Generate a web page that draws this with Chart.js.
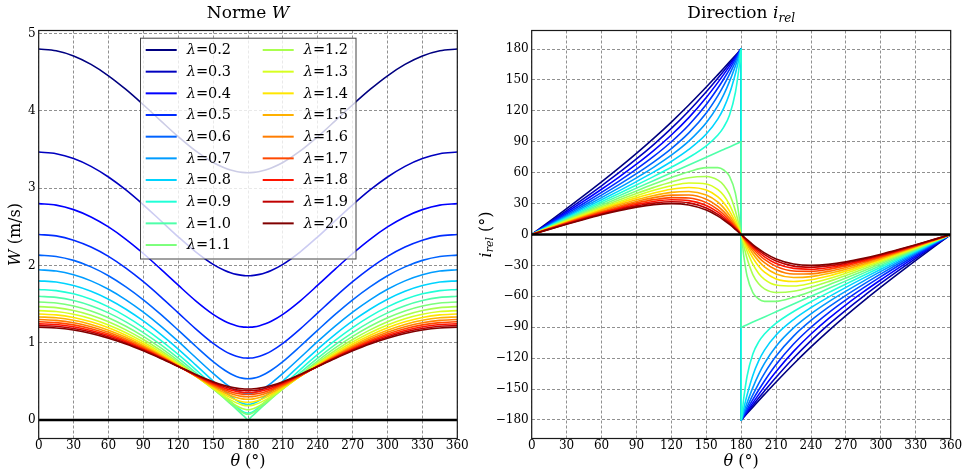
<!DOCTYPE html>
<html><head><meta charset="utf-8">
<script src="https://cdn.jsdelivr.net/npm/chart.js@4.4.1/dist/chart.umd.min.js"></script>
<style>
html,body{margin:0;padding:0;background:#fff;}
#wrap{position:relative;width:964px;height:475px;overflow:hidden;background:#fff;}
#pW{position:absolute;left:0;top:0;width:482px;height:475px;}
#pI{position:absolute;left:466px;top:0;width:498px;height:475px;}
</style></head><body>
<div id="wrap">
<div id="pW"><canvas id="cW" width="482" height="475"></canvas></div>
<div id="pI"><canvas id="cI" width="498" height="475"></canvas></div>
</div>
<script>
// ---------------- data ----------------
const lambdas = [0.2,0.3,0.4,0.5,0.6,0.7,0.8,0.9,1.0,1.1,1.2,1.3,1.4,1.5,1.6,1.7,1.8,1.9,2.0];
const theta = [0,15,30,45,60,75,90,105,120,135,150,160,165,170,175,178,180,180,182,185,190,195,200,210,225,240,255,270,285,300,315,330,345,360];
const thetaTicks = [0,30,60,90,120,150,180,210,240,270,300,330,360];
const wTicks = [0,1,2,3,4,5];
const iTicks = [-180,-150,-120,-90,-60,-30,0,30,60,90,120,150,180];
const zeroTheta = [0,360];
const zeroValue = [0,0];

// Norme W (m/s)
const W_02 = [4.8,4.777,4.71,4.601,4.454,4.277,4.079,3.871,3.666,3.481,3.331,3.26,3.234,3.215,3.204,3.201,3.2,3.2,3.201,3.204,3.215,3.234,3.26,3.331,3.481,3.666,3.871,4.079,4.277,4.454,4.601,4.71,4.777,4.8];
const W_03 = [3.467,3.446,3.383,3.282,3.144,2.976,2.784,2.578,2.37,2.176,2.014,1.934,1.905,1.884,1.871,1.867,1.867,1.867,1.867,1.871,1.884,1.905,1.934,2.014,2.176,2.37,2.578,2.784,2.976,3.144,3.282,3.383,3.446,3.467];
const W_04 = [2.8,2.78,2.722,2.627,2.498,2.338,2.154,1.952,1.744,1.542,1.367,1.278,1.245,1.22,1.205,1.201,1.2,1.2,1.201,1.205,1.22,1.245,1.278,1.367,1.542,1.744,1.952,2.154,2.338,2.498,2.627,2.722,2.78,2.8];
const W_05 = [2.4,2.382,2.327,2.238,2.117,1.965,1.789,1.593,1.386,1.179,0.991,0.891,0.853,0.824,0.806,0.801,0.8,0.8,0.801,0.806,0.824,0.853,0.891,0.991,1.179,1.386,1.593,1.789,1.965,2.117,2.238,2.327,2.382,2.4];
const W_06 = [2.133,2.116,2.065,1.981,1.867,1.723,1.555,1.366,1.162,0.954,0.755,0.643,0.598,0.563,0.541,0.535,0.533,0.533,0.535,0.541,0.563,0.598,0.643,0.755,0.954,1.162,1.366,1.555,1.723,1.867,1.981,2.065,2.116,2.133];
const W_07 = [1.943,1.927,1.879,1.8,1.691,1.555,1.395,1.214,1.016,0.808,0.602,0.477,0.424,0.381,0.353,0.344,0.343,0.343,0.344,0.353,0.381,0.424,0.477,0.602,0.808,1.016,1.214,1.395,1.555,1.691,1.8,1.879,1.927,1.943];
const W_08 = [1.8,1.785,1.739,1.665,1.562,1.433,1.281,1.107,0.917,0.713,0.504,0.369,0.307,0.254,0.215,0.202,0.2,0.2,0.202,0.215,0.254,0.307,0.369,0.504,0.713,0.917,1.107,1.281,1.433,1.562,1.665,1.739,1.785,1.8];
const W_09 = [1.689,1.674,1.632,1.561,1.463,1.341,1.196,1.031,0.848,0.652,0.445,0.306,0.237,0.172,0.115,0.094,0.089,0.089,0.094,0.115,0.172,0.237,0.306,0.445,0.652,0.848,1.031,1.196,1.341,1.463,1.561,1.632,1.674,1.689];
const W_10 = [1.6,1.586,1.545,1.478,1.386,1.269,1.131,0.974,0.8,0.612,0.414,0.278,0.209,0.139,0.07,0.028,0,0,0.028,0.07,0.139,0.209,0.278,0.414,0.612,0.8,0.974,1.131,1.269,1.386,1.478,1.545,1.586,1.6];
const W_11 = [1.527,1.514,1.475,1.411,1.323,1.212,1.081,0.932,0.766,0.588,0.401,0.275,0.212,0.152,0.099,0.077,0.073,0.073,0.077,0.099,0.152,0.212,0.275,0.401,0.588,0.766,0.932,1.081,1.212,1.323,1.411,1.475,1.514,1.527];
const W_12 = [1.467,1.454,1.417,1.356,1.272,1.166,1.041,0.899,0.742,0.575,0.401,0.287,0.233,0.184,0.148,0.136,0.133,0.133,0.136,0.148,0.184,0.233,0.287,0.401,0.575,0.742,0.899,1.041,1.166,1.272,1.356,1.417,1.454,1.467];
const W_13 = [1.415,1.403,1.368,1.31,1.229,1.129,1.009,0.874,0.726,0.568,0.407,0.306,0.26,0.221,0.195,0.186,0.185,0.185,0.186,0.195,0.221,0.26,0.306,0.407,0.568,0.726,0.874,1.009,1.129,1.229,1.31,1.368,1.403,1.415];
const W_14 = [1.371,1.36,1.326,1.27,1.193,1.097,0.983,0.854,0.714,0.566,0.418,0.328,0.289,0.257,0.236,0.23,0.229,0.229,0.23,0.236,0.257,0.289,0.328,0.418,0.566,0.714,0.854,0.983,1.097,1.193,1.27,1.326,1.36,1.371];
const W_15 = [1.333,1.322,1.29,1.236,1.162,1.07,0.961,0.839,0.706,0.567,0.431,0.35,0.317,0.29,0.273,0.268,0.267,0.267,0.268,0.273,0.29,0.317,0.35,0.431,0.567,0.706,0.839,0.961,1.07,1.162,1.236,1.29,1.322,1.333];
const W_16 = [1.3,1.289,1.258,1.207,1.136,1.047,0.943,0.826,0.7,0.569,0.444,0.372,0.342,0.32,0.305,0.301,0.3,0.3,0.301,0.305,0.32,0.342,0.372,0.444,0.569,0.7,0.826,0.943,1.047,1.136,1.207,1.258,1.289,1.3];
const W_17 = [1.271,1.26,1.23,1.181,1.113,1.028,0.928,0.816,0.696,0.574,0.458,0.392,0.366,0.346,0.334,0.33,0.329,0.329,0.33,0.334,0.346,0.366,0.392,0.458,0.574,0.696,0.816,0.928,1.028,1.113,1.181,1.23,1.26,1.271];
const W_18 = [1.244,1.235,1.206,1.158,1.092,1.011,0.915,0.808,0.694,0.579,0.471,0.411,0.388,0.37,0.359,0.356,0.356,0.356,0.356,0.359,0.37,0.388,0.411,0.471,0.579,0.694,0.808,0.915,1.011,1.092,1.158,1.206,1.235,1.244];
const W_19 = [1.221,1.212,1.184,1.137,1.074,0.996,0.904,0.802,0.693,0.584,0.484,0.429,0.408,0.392,0.382,0.38,0.379,0.379,0.38,0.382,0.392,0.408,0.429,0.484,0.584,0.693,0.802,0.904,0.996,1.074,1.137,1.184,1.212,1.221];
const W_20 = [1.2,1.191,1.164,1.119,1.058,0.983,0.894,0.796,0.693,0.589,0.496,0.446,0.426,0.412,0.403,0.401,0.4,0.4,0.401,0.403,0.412,0.426,0.446,0.496,0.589,0.693,0.796,0.894,0.983,1.058,1.119,1.164,1.191,1.2];

// Direction i_rel (deg)
const I_02 = [0,12.5,25.13,37.94,51.05,64.59,78.69,93.48,109.11,125.65,143.1,155.19,161.33,167.52,173.75,177.5,180,-180,-177.5,-173.75,-167.52,-161.33,-155.19,-143.1,-125.65,-109.11,-93.48,-78.69,-64.59,-51.05,-37.94,-25.13,-12.5,0];
const I_03 = [0,11.55,23.21,35.07,47.27,59.95,73.3,87.56,103,119.92,138.54,151.87,158.76,165.77,172.86,177.14,180,-180,-177.14,-172.86,-165.77,-158.76,-151.87,-138.54,-119.92,-103,-87.56,-73.3,-59.95,-47.27,-35.07,-23.21,-11.55,0];
const I_04 = [0,10.73,21.55,32.57,43.9,55.7,68.2,81.68,96.59,113.48,132.99,147.64,155.43,163.46,171.68,176.67,180,-180,-176.67,-171.68,-163.46,-155.43,-147.64,-132.99,-113.48,-96.59,-81.68,-68.2,-55.7,-43.9,-32.57,-21.55,-10.73,0];
const I_05 = [0,10.01,20.1,30.36,40.89,51.85,63.43,75.98,90,106.32,126.21,142.13,150.95,160.3,170.04,176,180,-180,-176,-170.04,-160.3,-150.95,-142.13,-126.21,-106.32,-90,-75.98,-63.43,-51.85,-40.89,-30.36,-20.1,-10.01,0];
const I_06 = [0,9.39,18.83,28.41,38.21,48.36,59.04,70.55,83.41,98.61,118.01,134.8,144.73,155.71,167.59,175.01,180,-180,-175.01,-167.59,-155.71,-144.73,-134.8,-118.01,-98.61,-83.41,-70.55,-59.04,-48.36,-38.21,-28.41,-18.83,-9.39,0];
const I_07 = [0,8.83,17.71,26.68,35.82,45.21,55.01,65.45,77,90.58,108.37,125.02,135.78,148.63,163.6,173.35,180,-180,-173.35,-163.6,-148.63,-135.78,-125.02,-108.37,-90.58,-77,-65.45,-55.01,-45.21,-35.82,-26.68,-17.71,-8.83,0];
const I_08 = [0,8.34,16.71,25.14,33.67,42.37,51.34,60.74,70.89,82.52,97.52,112.22,122.66,136.78,156.05,170.07,180,-180,-170.07,-156.05,-136.78,-122.66,-112.22,-97.52,-82.52,-70.89,-60.74,-51.34,-42.37,-33.67,-25.14,-16.71,-8.34,0];
const I_09 = [0,7.9,15.81,23.75,31.74,39.81,48.01,56.42,65.21,74.74,86.11,96.62,104.29,116.03,137.82,160.65,180,-180,-160.65,-137.82,-116.03,-104.29,-96.62,-86.11,-74.74,-65.21,-56.42,-48.01,-39.81,-31.74,-23.75,-15.81,-7.9,0];
const I_10 = [0,7.5,15,22.5,30,37.5,45,52.5,60,67.5,75,80,82.5,85,87.5,89,90,-90,-89,-87.5,-85,-82.5,-80,-75,-67.5,-60,-52.5,-45,-37.5,-30,-22.5,-15,-7.5,0];
const I_11 = [0,7.14,14.27,21.37,28.43,35.41,42.27,48.95,55.28,60.94,64.92,64.89,62.61,56.44,40.02,19.13,0,0,-19.13,-40.02,-56.44,-62.61,-64.89,-64.92,-60.94,-55.28,-48.95,-42.27,-35.41,-28.43,-21.37,-14.27,-7.14,0];
const I_12 = [0,6.81,13.6,20.34,27,33.51,39.81,45.73,51.05,55.12,56.26,52.72,47.87,38.9,23.15,9.87,0,0,-9.87,-23.15,-38.9,-47.87,-52.72,-56.26,-55.12,-51.05,-45.73,-39.81,-33.51,-27,-20.34,-13.6,-6.81,0];
const I_13 = [0,6.52,13,19.41,25.69,31.78,37.57,42.85,47.27,50.02,49.04,43.51,37.77,28.85,16.01,6.62,0,0,-6.62,-16.01,-28.85,-37.77,-43.51,-49.04,-50.02,-47.27,-42.85,-37.57,-31.78,-25.69,-19.41,-13,-6.52,0];
const I_14 = [0,6.24,12.44,18.55,24.5,30.21,35.54,40.24,43.9,45.58,43.12,36.61,30.8,22.7,12.18,4.98,0,0,-4.98,-12.18,-22.7,-30.8,-36.61,-43.12,-45.58,-43.9,-40.24,-35.54,-30.21,-24.5,-18.55,-12.44,-6.24,0];
const I_15 = [0,5.99,11.93,17.76,23.41,28.78,33.69,37.89,40.89,41.73,38.26,31.4,25.86,18.63,9.81,3.99,0,0,-3.99,-9.81,-18.63,-25.86,-31.4,-38.26,-41.73,-40.89,-37.89,-33.69,-28.78,-23.41,-17.76,-11.93,-5.99,0];
const I_16 = [0,5.76,11.46,17.04,22.41,27.46,32.01,35.76,38.21,38.38,34.26,27.38,22.2,15.76,8.21,3.33,0,0,-3.33,-8.21,-15.76,-22.2,-27.38,-34.26,-38.38,-38.21,-35.76,-32.01,-27.46,-22.41,-17.04,-11.46,-5.76,0];
const I_17 = [0,5.55,11.03,16.37,21.49,26.25,30.47,33.83,35.82,35.46,30.94,24.22,19.42,13.65,7.06,2.85,0,0,-2.85,-7.06,-13.65,-19.42,-24.22,-30.94,-35.46,-35.82,-33.83,-30.47,-26.25,-21.49,-16.37,-11.03,-5.55,0];
const I_18 = [0,5.35,10.62,15.75,20.63,25.13,29.05,32.08,33.67,32.9,28.16,21.68,17.24,12.03,6.19,2.5,0,0,-2.5,-6.19,-12.03,-17.24,-21.68,-28.16,-32.9,-33.67,-32.08,-29.05,-25.13,-20.63,-15.75,-10.62,-5.35,0];
const I_19 = [0,5.16,10.25,15.17,19.84,24.11,27.76,30.48,31.74,30.66,25.81,19.6,15.49,10.74,5.51,2.22,0,0,-2.22,-5.51,-10.74,-15.49,-19.6,-25.81,-30.66,-31.74,-30.48,-27.76,-24.11,-19.84,-15.17,-10.25,-5.16,0];
const I_20 = [0,4.99,9.9,14.64,19.11,23.15,26.57,29.02,30,28.68,23.79,17.88,14.05,9.71,4.96,2,0,0,-2,-4.96,-9.71,-14.05,-17.88,-23.79,-28.68,-30,-29.02,-26.57,-23.15,-19.11,-14.64,-9.9,-4.99,0];

const normeW = [W_02,W_03,W_04,W_05,W_06,W_07,W_08,W_09,W_10,W_11,W_12,W_13,W_14,W_15,W_16,W_17,W_18,W_19,W_20];
const directionI = [I_02,I_03,I_04,I_05,I_06,I_07,I_08,I_09,I_10,I_11,I_12,I_13,I_14,I_15,I_16,I_17,I_18,I_19,I_20];

// ---------------- styles ----------------
const jetColors = ['#000080','#0000bf','#0000ff','#002bff','#0063ff','#009cff','#00d4ff','#20ffd7','#4effa9','#7bff7b','#a9ff4e','#d7ff20','#ffe600','#ffb100','#ff7d00','#ff4800','#ff1400','#c00000','#800000'];
const FAM = '"DejaVu Serif", serif';
Chart.defaults.font.family = FAM;
const GRID = 'rgba(0,0,0,0.55)';

function drawParts(ctx, parts, x, y, align) {
  let total = 0;
  for (const p of parts) { ctx.font = p[1]; total += ctx.measureText(p[0]).width; }
  let cx = align === 'center' ? x - total / 2 : x;
  ctx.textAlign = 'left';
  for (const p of parts) {
    ctx.font = p[1];
    ctx.fillText(p[0], cx, y + (p[2] || 0));
    cx += ctx.measureText(p[0]).width;
  }
}

function drawLegend(ctx) {
  ctx.save();
  ctx.fillStyle = 'rgba(255,255,255,0.8)';
  ctx.fillRect(140, 37.7, 216, 221.3);
  ctx.strokeStyle = '#444';
  ctx.lineWidth = 1;
  ctx.setLineDash([]);
  ctx.strokeRect(140.5, 38.2, 215.5, 220.8);
  ctx.textBaseline = 'middle';
  ctx.fillStyle = '#000';
  for (let k = 0; k < lambdas.length; k++) {
    const col = k < 10 ? 0 : 1;
    const row = col ? k - 10 : k;
    const y = 50 + row * 21.67;
    const x1 = col ? 262.7 : 145.7;
    ctx.strokeStyle = jetColors[k];
    ctx.lineWidth = 2;
    ctx.beginPath(); ctx.moveTo(x1, y); ctx.lineTo(x1 + 31, y); ctx.stroke();
    drawParts(ctx, [['λ', 'italic 14.5px ' + FAM], ['=' + lambdas[k].toFixed(1), '14.5px ' + FAM]], x1 + 41, y + 0.5, 'left');
  }
  ctx.restore();
}

const decor = {
  id: 'decor',
  afterDraw(chart, args, opts) {
    const ctx = chart.ctx, a = chart.chartArea;
    ctx.save();
    if (opts.legend) drawLegend(ctx);
    ctx.setLineDash([]);
    ctx.strokeStyle = '#1a1a1a';
    ctx.lineWidth = 1.2;
    ctx.strokeRect(a.left, a.top, a.right - a.left, a.bottom - a.top);
    ctx.fillStyle = '#000';
    const cx = (a.left + a.right) / 2;
    ctx.textBaseline = 'alphabetic';
    drawParts(ctx, opts.title, cx, 17.5, 'center');
    ctx.textBaseline = 'middle';
    drawParts(ctx, opts.xlabel, cx, 462, 'center');
    ctx.translate(opts.ylabelX, (a.top + a.bottom) / 2);
    ctx.rotate(-Math.PI / 2);
    drawParts(ctx, opts.ylabel, 0, 0, 'center');
    ctx.restore();
  }
};

function makeDatasets(list) {
  const ds = list.map((vals, k) => ({
    label: 'λ=' + lambdas[k].toFixed(1),
    data: theta.map((t, j) => ({x: t, y: vals[j]})),
    borderColor: jetColors[k],
    backgroundColor: jetColors[k],
    borderWidth: 1.6,
    pointRadius: 0,
    fill: false,
    cubicInterpolationMode: 'monotone',
    borderJoinStyle: 'round',
    order: 40 - k
  }));
  ds.push({
    label: 'zero',
    data: zeroTheta.map((t, j) => ({x: t, y: zeroValue[j]})),
    borderColor: '#000', borderWidth: 2.5, pointRadius: 0, tension: 0, fill: false, order: 0
  });
  return ds;
}

function axisOpts(extra) {
  return Object.assign({
    type: 'linear',
    grid: {color: GRID, lineWidth: 0.8, drawTicks: false},
    border: {display: false, dash: [3, 2]}
  }, extra);
}

function makeOptions(cfg) {
  return {
    responsive: false, animation: false, events: [],
    layout: {padding: {top: 30.5, right: cfg.right, bottom: 0, left: 0}},
    plugins: {legend: {display: false}, tooltip: {enabled: false}, decor: cfg.decor},
    scales: {
      x: axisOpts({
        min: 0, max: 360,
        afterBuildTicks: s => { s.ticks = thetaTicks.map(v => ({value: v})); },
        afterFit: s => { s.height = 36.5; },
        ticks: {autoSkip: false, maxRotation: 0, minRotation: 0, padding: 0, color: '#000', font: {size: 12, family: FAM}, callback: v => String(v)}
      }),
      y: axisOpts({
        min: cfg.ymin, max: cfg.ymax,
        afterBuildTicks: s => { s.ticks = cfg.yticks.map(v => ({value: v})); },
        afterFit: s => { s.width = cfg.yw; },
        ticks: {padding: 3, color: '#000', font: {size: 12, family: FAM}, callback: v => String(v).replace('-', '\u2212')}
      })
    }
  };
}

new Chart(document.getElementById('cW'), {
  type: 'line',
  data: {datasets: makeDatasets(normeW)},
  options: makeOptions({
    right: 24.7, yw: 38.7, ymin: -0.24, ymax: 5.04, yticks: wTicks,
    decor: {
      legend: true,
      title: [['Norme ', '17px ' + FAM], ['W', 'italic 17px ' + FAM]],
      xlabel: [['θ', 'italic 16px ' + FAM], [' (°)', '16px ' + FAM]],
      ylabel: [['W', 'italic 16px ' + FAM], [' (m/s)', '16px ' + FAM]],
      ylabelX: 16
    }
  }),
  plugins: [decor]
});

new Chart(document.getElementById('cI'), {
  type: 'line',
  data: {datasets: makeDatasets(directionI)},
  options: makeOptions({
    right: 13.3, yw: 65.7, ymin: -198, ymax: 198, yticks: iTicks,
    decor: {
      legend: false,
      title: [['Direction ', '17px ' + FAM], ['i', 'italic 17px ' + FAM], ['rel', 'italic 12px ' + FAM, 4]],
      xlabel: [['θ', 'italic 16px ' + FAM], [' (°)', '16px ' + FAM]],
      ylabel: [['i', 'italic 16px ' + FAM], ['rel', 'italic 11px ' + FAM, 3.5], [' (°)', '16px ' + FAM]],
      ylabelX: 21
    }
  }),
  plugins: [decor]
});
</script>
</body></html>
